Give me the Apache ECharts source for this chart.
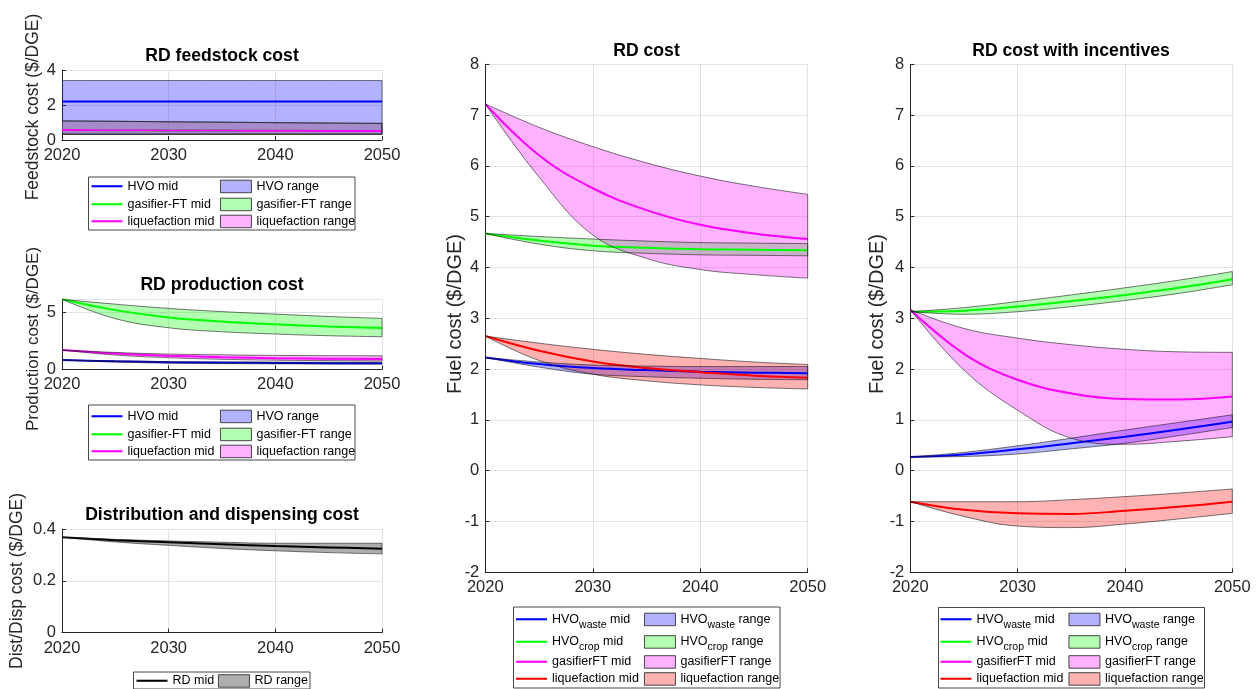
<!DOCTYPE html>
<html>
<head>
<meta charset="utf-8">
<title>Renewable diesel cost</title>
<script src="https://cdn.jsdelivr.net/npm/echarts@6/dist/echarts.min.js"></script>
<style>
  html, body { margin: 0; padding: 0; background: #fff; }
  #c { width: 1260px; height: 689px; }
</style>
</head>
<body>
<div id="c"></div>
<script>
// ---------- data ($/DGE) ----------
const years = ['2020', '2025', '2030', '2035', '2040', '2045', '2050'];

// RD feedstock cost
const feedHvoLow   = [0.33, 0.33, 0.33, 0.33, 0.33, 0.33, 0.33];
const feedHvoMid   = [2.20, 2.20, 2.20, 2.20, 2.20, 2.20, 2.20];
const feedHvoHigh  = [3.40, 3.40, 3.40, 3.40, 3.40, 3.40, 3.40];
const feedFtLow    = [0.33, 0.33, 0.33, 0.33, 0.33, 0.33, 0.33];
const feedFtMid    = [0.57, 0.56, 0.55, 0.54, 0.53, 0.52, 0.51];
const feedFtHigh   = [1.09, 1.07, 1.04, 1.02, 0.99, 0.97, 0.95];
const feedLiqLow   = [0.33, 0.33, 0.33, 0.33, 0.33, 0.33, 0.33];
const feedLiqMid   = [0.57, 0.56, 0.55, 0.54, 0.53, 0.52, 0.51];
const feedLiqHigh  = [1.09, 1.07, 1.04, 1.02, 0.99, 0.97, 0.95];

// RD production cost
const prodHvoLow   = [0.82, 0.64, 0.54, 0.50, 0.48, 0.46, 0.45];
const prodHvoMid   = [0.82, 0.70, 0.62, 0.58, 0.56, 0.54, 0.53];
const prodHvoHigh  = [0.82, 0.74, 0.68, 0.65, 0.63, 0.62, 0.62];
const prodFtLow    = [6.15, 4.45, 3.65, 3.30, 3.10, 2.95, 2.86];
const prodFtMid    = [6.15, 5.20, 4.56, 4.20, 3.95, 3.76, 3.62];
const prodFtHigh   = [6.15, 5.72, 5.35, 5.07, 4.85, 4.64, 4.47];
const prodLiqLow   = [1.69, 1.25, 1.02, 0.88, 0.80, 0.76, 0.73];
const prodLiqMid   = [1.69, 1.38, 1.19, 1.06, 0.98, 0.93, 0.90];
const prodLiqHigh  = [1.69, 1.48, 1.34, 1.27, 1.22, 1.20, 1.19];

// Distribution and dispensing cost
const distLow      = [0.368, 0.350, 0.337, 0.325, 0.316, 0.309, 0.304];
const distMid      = [0.368, 0.357, 0.349, 0.341, 0.334, 0.329, 0.324];
const distHigh     = [0.368, 0.360, 0.354, 0.349, 0.345, 0.345, 0.345];

// RD cost
const costWasteLow  = [2.23, 2.04, 1.90, 1.85, 1.82, 1.80, 1.79];
const costWasteMid  = [2.23, 2.10, 2.02, 1.98, 1.95, 1.93, 1.92];
const costWasteHigh = [2.23, 2.14, 2.08, 2.06, 2.05, 2.05, 2.05];
const costCropLow   = [4.67, 4.46, 4.33, 4.28, 4.25, 4.24, 4.23];
const costCropMid   = [4.67, 4.53, 4.43, 4.39, 4.36, 4.35, 4.34];
const costCropHigh  = [4.67, 4.61, 4.56, 4.52, 4.49, 4.48, 4.47];
const costFtLow     = [7.22, 5.78, 4.64, 4.18, 3.96, 3.86, 3.79];
const costFtMid     = [7.22, 6.21, 5.56, 5.13, 4.84, 4.67, 4.56];
const costFtHigh    = [7.22, 6.76, 6.38, 6.06, 5.80, 5.60, 5.44];
const costLiqLow    = [2.65, 2.17, 1.90, 1.77, 1.69, 1.64, 1.61];
const costLiqMid    = [2.65, 2.36, 2.15, 2.02, 1.94, 1.87, 1.83];
const costLiqHigh   = [2.65, 2.51, 2.39, 2.29, 2.21, 2.14, 2.09];

// RD cost with incentives
const incWasteLow   = [0.27, 0.28, 0.33, 0.43, 0.54, 0.69, 0.85];
const incWasteMid   = [0.27, 0.32, 0.42, 0.54, 0.67, 0.81, 0.965];
const incWasteHigh  = [0.27, 0.36, 0.49, 0.64, 0.80, 0.95, 1.10];
const incCropLow    = [3.13, 3.08, 3.13, 3.23, 3.35, 3.49, 3.66];
const incCropMid    = [3.13, 3.15, 3.23, 3.34, 3.46, 3.60, 3.77];
const incCropHigh   = [3.13, 3.21, 3.33, 3.46, 3.60, 3.75, 3.92];
const incFtLow      = [3.17, 1.98, 1.19, 0.64, 0.52, 0.58, 0.67];
const incFtMid      = [3.17, 2.30, 1.79, 1.52, 1.41, 1.40, 1.46];
const incFtHigh     = [3.17, 2.80, 2.61, 2.48, 2.39, 2.34, 2.33];
const incLiqLow     = [-0.61, -0.90, -1.09, -1.12, -1.05, -0.95, -0.84];
const incLiqMid     = [-0.61, -0.77, -0.84, -0.85, -0.79, -0.71, -0.61];
const incLiqHigh    = [-0.61, -0.61, -0.61, -0.57, -0.51, -0.44, -0.36];

// ---------- styling ----------
const FONT = '"Liberation Sans", Arial, Helvetica, sans-serif';
const AXIS_COLOR = '#262626';
const GRID_COLOR = '#e2e2e2';
const EDGE = { color: '#1a1a1a', width: 0.6 };
const SMOOTH = 0.4;
const COL = { blue: '#0000ff', green: '#00ff00', magenta: '#ff00ff', red: '#ff0000', black: '#000000' };
const FILL = {
  blue: 'rgba(0,0,255,0.3)', green: 'rgba(0,255,0,0.3)', magenta: 'rgba(255,0,255,0.3)',
  red: 'rgba(255,0,0,0.3)', black: 'rgba(0,0,0,0.32)'
};
const LINE_ICON = 'path://M0,0H30V2H0Z';

function midSeries(name, color, vals, gi) {
  return {
    type: 'line', name, xAxisIndex: gi, yAxisIndex: gi, data: vals.slice(),
    symbol: 'none', smooth: SMOOTH, lineStyle: { color, width: 2 }, itemStyle: { color },
    silent: true
  };
}

// a range band: stacked base line + filled (high - low) layer + closing edge at the last year
function bandSeries(name, fill, lo, hi, gi, key) {
  const n = years.length - 1;
  const common = { type: 'line', xAxisIndex: gi, yAxisIndex: gi, symbol: 'none', silent: true };
  return [
    Object.assign({}, common, {
      name: name + ' (low)', stack: key, stackStrategy: 'all', smooth: SMOOTH,
      data: lo.slice(), lineStyle: EDGE, itemStyle: { color: EDGE.color }
    }),
    Object.assign({}, common, {
      name, stack: key, stackStrategy: 'all', smooth: SMOOTH,
      data: hi.map((v, i) => v - lo[i]),
      areaStyle: { color: fill, opacity: 1 }, lineStyle: EDGE, itemStyle: { color: fill }
    }),
    Object.assign({}, common, {
      name: name + ' (edge)', data: [[years[n], lo[n]], [years[n], hi[n]]],
      lineStyle: EDGE, itemStyle: { color: EDGE.color }
    })
  ];
}

function xAxisFor(gi) {
  return {
    type: 'category', gridIndex: gi, data: years, boundaryGap: false,
    axisLine: { show: true, onZero: false, lineStyle: { color: AXIS_COLOR, width: 1 } },
    axisTick: { show: true, inside: true, length: 4, interval: 1, lineStyle: { color: AXIS_COLOR } },
    axisLabel: { color: AXIS_COLOR, fontSize: 16.5, fontFamily: FONT, margin: 7, interval: 1 },
    splitLine: { show: true, interval: 1, lineStyle: { color: GRID_COLOR, width: 1 } }
  };
}
function yAxisFor(gi, min, max, interval, showMax) {
  return {
    type: 'value', gridIndex: gi, min, max, interval,
    axisLine: { show: true, onZero: false, lineStyle: { color: AXIS_COLOR, width: 1 } },
    axisTick: { show: true, inside: true, length: 4, lineStyle: { color: AXIS_COLOR } },
    axisLabel: { color: AXIS_COLOR, fontSize: 16.5, fontFamily: FONT, margin: 6, showMaxLabel: showMax,
      formatter: v => String(Math.round(v * 100) / 100) },
    splitLine: { show: true, lineStyle: { color: GRID_COLOR, width: 1 } }
  };
}

// ---------- legends ----------
const legendRich = {
  n: { fontSize: 12.5, fontFamily: FONT, color: '#000' },
  s: { fontSize: 10.5, fontFamily: FONT, color: '#000', padding: [11, 0, 0, 0] },
  p: { fontSize: 12.5, fontFamily: FONT, color: '#000' }
};
function legendText(name) {
  const m = name.match(/^([^_]+)_(\S+)(.*)$/);
  if (m) return '{n|' + m[1] + '}{s|' + m[2] + '}{n|' + m[3] + '}';
  return '{p|' + name.trim() + '}';
}
// one legend entry placed with its icon centred on rowY
function legendEntry(name, kind, color, left, rowY) {
  const item = kind === 'line'
    ? { name, icon: LINE_ICON, itemStyle: { color: COL[color], borderWidth: 0 } }
    : { name, icon: 'rect', itemStyle: { color: FILL[color], borderColor: '#333', borderWidth: 0.9 } };
  return {
    orient: 'vertical', left, top: rowY - 6.25, padding: 0, itemWidth: 31, itemHeight: 12.5,
    selectedMode: false, formatter: legendText,
    textStyle: { color: '#000', fontSize: 12.5, fontFamily: FONT, rich: legendRich },
    data: [item]
  };
}

const leftMid = ['HVO mid', 'gasifier-FT mid', 'liquefaction mid'];
const leftRange = ['HVO range', 'gasifier-FT range', 'liquefaction range'];
const leftCols = ['blue', 'green', 'magenta'];
const mainMid = ['HVO_waste mid', 'HVO_crop mid', 'gasifierFT mid', 'liquefaction mid '];
const mainRange = ['HVO_waste range', 'HVO_crop range', 'gasifierFT range', 'liquefaction range '];
const mainCols = ['blue', 'green', 'magenta', 'red'];

const legends = [];
function addLegendBlock(mids, ranges, cols, lineLeft, rectLeft, rows) {
  mids.forEach((nm, i) => legends.push(legendEntry(nm, 'line', cols[i], lineLeft, rows[i])));
  ranges.forEach((nm, i) => legends.push(legendEntry(nm, 'rect', cols[i], rectLeft, rows[i])));
}
addLegendBlock(leftMid, leftRange, leftCols, 91.5, 220, [186, 204, 221]);
addLegendBlock(leftMid, leftRange, leftCols, 91.5, 220, [416, 434, 451]);
addLegendBlock(['RD mid'], ['RD range'], ['black'], 136.5, 218, [680.5]);
addLegendBlock(mainMid, mainRange, mainCols, 516, 644, [619, 641.5, 661.5, 678.5]);
addLegendBlock(mainMid, mainRange, mainCols, 940.5, 1068.5, [619, 641.5, 661.5, 678.5]);

// ---------- series ----------
const series = [];
function addPanel(gi, mids, ranges, cols, sets) {
  sets.forEach((s, i) => series.push(midSeries(mids[i], COL[cols[i]], s[1], gi)));
  sets.forEach((s, i) => series.push(...bandSeries(ranges[i], FILL[cols[i]], s[0], s[2], gi, 'g' + gi + '_' + i)));
}
addPanel(0, leftMid, leftRange, leftCols, [
  [feedHvoLow, feedHvoMid, feedHvoHigh], [feedFtLow, feedFtMid, feedFtHigh], [feedLiqLow, feedLiqMid, feedLiqHigh]]);
addPanel(1, leftMid, leftRange, leftCols, [
  [prodHvoLow, prodHvoMid, prodHvoHigh], [prodFtLow, prodFtMid, prodFtHigh], [prodLiqLow, prodLiqMid, prodLiqHigh]]);
addPanel(2, ['RD mid'], ['RD range'], ['black'], [[distLow, distMid, distHigh]]);
addPanel(3, mainMid, mainRange, mainCols, [
  [costWasteLow, costWasteMid, costWasteHigh], [costCropLow, costCropMid, costCropHigh],
  [costFtLow, costFtMid, costFtHigh], [costLiqLow, costLiqMid, costLiqHigh]]);
addPanel(4, mainMid, mainRange, mainCols, [
  [incWasteLow, incWasteMid, incWasteHigh], [incCropLow, incCropMid, incCropHigh],
  [incFtLow, incFtMid, incFtHigh], [incLiqLow, incLiqMid, incLiqHigh]]);

// ---------- text & frames ----------
const titleStyle = { font: 'bold 17.6px ' + FONT, fill: '#000', align: 'center', verticalAlign: 'middle' };
const titles = [
  ['RD feedstock cost', 222, 56], ['RD production cost', 222, 285],
  ['Distribution and dispensing cost', 222, 515], ['RD cost', 646.5, 51], ['RD cost with incentives', 1071, 51]
];
// [text, x, y, font size]
const yNames = [
  ['Feedstock cost ($/DGE)', 33, 107, 17.5], ['Production cost ($/DGE)', 33, 339, 17],
  ['Dist/Disp cost ($/DGE)', 17, 581, 17.5], ['Fuel cost ($/DGE)', 455, 314, 20], ['Fuel cost ($/DGE)', 877, 314, 20]
];
const legendBoxes = [
  [88.5, 177, 266.5, 53], [88.5, 405, 266.5, 55], [133.5, 672, 176.5, 17],
  [513.5, 607, 266.5, 81], [938.5, 607.5, 266, 80.5]
];
const graphic = [];
legendBoxes.forEach(b => graphic.push({ type: 'rect', z: 0, silent: true,
  shape: { x: b[0], y: b[1], width: b[2], height: b[3] },
  style: { fill: '#fff', stroke: '#333', lineWidth: 0.9 } }));
titles.forEach(t => graphic.push({ type: 'text', x: t[1], y: t[2], silent: true,
  style: Object.assign({ text: t[0] }, titleStyle) }));
yNames.forEach(t => graphic.push({ type: 'text', x: t[1], y: t[2], rotation: Math.PI / 2, silent: true,
  style: { text: t[0], font: t[3] + 'px ' + FONT, fill: AXIS_COLOR, align: 'center', verticalAlign: 'middle' } }));

const option = {
  backgroundColor: '#fff',
  animation: false,
  grid: [
    { left: 62, top: 70, width: 320, height: 70 },
    { left: 62, top: 299.3, width: 320, height: 70 },
    { left: 62, top: 529, width: 320, height: 103.7 },
    { left: 485.3, top: 64.3, width: 322.4, height: 508 },
    { left: 910.3, top: 64.3, width: 322, height: 508 }
  ],
  xAxis: [0, 1, 2, 3, 4].map(xAxisFor),
  yAxis: [
    yAxisFor(0, 0, 4, 2, true),
    yAxisFor(1, 0, 6.15, 5, false),
    yAxisFor(2, 0, 0.4, 0.2, true),
    yAxisFor(3, -2, 8, 1, true),
    yAxisFor(4, -2, 8, 1, true)
  ],
  legend: legends,
  graphic,
  series
};

const chart = echarts.init(document.getElementById('c'));
chart.setOption(option);
</script>
</body>
</html>
